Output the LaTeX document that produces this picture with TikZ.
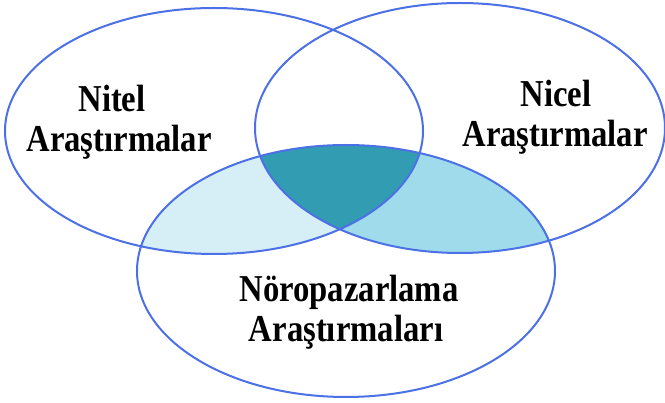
\documentclass[tikz,border=0pt]{standalone}
\usepackage{fontspec}
\setmainfont{Liberation Serif}
\definecolor{edgeblue}{RGB}{76,112,230}
\definecolor{lightfill}{RGB}{214,238,246}
\definecolor{midfill}{RGB}{160,219,236}
\definecolor{darkfill}{RGB}{50,156,178}
\newcommand{\condtxt}[1]{\scalebox{0.86}[1]{#1}}
\tikzset{
  ring/.style={draw=edgeblue, line width=2pt},
  lbl/.style={font=\fontsize{38}{40}\selectfont\bfseries, anchor=base, inner sep=0pt, text=black}
}
\begin{document}
\begin{tikzpicture}[x=1pt,y=-1pt]
\useasboundingbox (0,0) rectangle (665,403);
\fill[white] (0,0) rectangle (665,403);
% regions
\begin{scope}
  \clip (346,271) ellipse [x radius=209, y radius=126];
  \fill[lightfill] (214,131) ellipse [x radius=209, y radius=123];
  \fill[midfill] (460,128) ellipse [x radius=205, y radius=125];
  \clip (214,131) ellipse [x radius=209, y radius=123];
  \fill[darkfill] (460,128) ellipse [x radius=205, y radius=125];
\end{scope}
% outlines
\draw[ring] (214,131) ellipse [x radius=209, y radius=123];
\draw[ring] (460,128) ellipse [x radius=205, y radius=125];
\draw[ring] (346,271) ellipse [x radius=209, y radius=126];
% labels
\node[lbl] (nitel1) at (112,112) {\condtxt{Nitel}};
\node[lbl] (nitel2) at (119,152) {\condtxt{Araştırmalar}};
\node[lbl] (nicel1) at (556,107) {\condtxt{Nicel}};
\node[lbl] (nicel2) at (555,147) {\condtxt{Araştırmalar}};
\node[lbl] (noro1) at (349,302) {\condtxt{Nöropazarlama}};
\node[lbl] (noro2) at (346,342) {\condtxt{Araştırmaları}};
\end{tikzpicture}
\end{document}
